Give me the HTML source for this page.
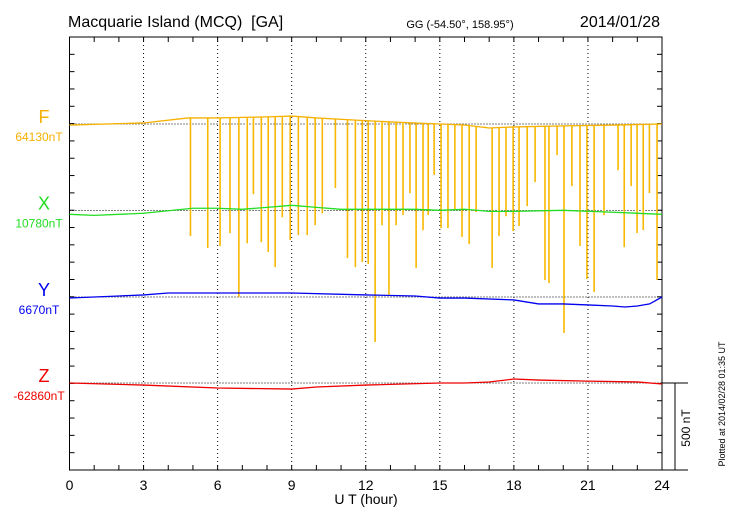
<!DOCTYPE html>
<html><head><meta charset="utf-8"><style>
body{margin:0;background:#fff;width:730px;height:520px;overflow:hidden}
svg{font-family:"Liberation Sans",sans-serif}
text{white-space:pre}
</style></head><body>
<svg id="c" width="730" height="520"></svg>
<script>
const hoursTicks=[0,3,6,9,12,15,18,21,24];
const fBase=[[0,64124],[3,64136],[4.8,64165],[6,64165],[8,64171],[9,64176],[10,64165],[11.5,64153],[13,64142],[14,64136],[16,64124],[17,64107],[18,64113],[20,64119],[22,64124],[24,64130]];
const fSpikeHours=[4.9,5.6,6.1,6.5,6.86,7.2,7.45,7.77,8.05,8.33,8.62,8.94,9.27,9.63,9.95,10.24,10.77,11.26,11.58,11.86,12.1,12.38,12.66,12.94,13.23,13.51,13.79,14.04,14.32,14.53,14.77,15.05,15.33,15.61,15.9,16.19,16.47,16.84,17.12,17.4,17.68,17.97,18.21,18.54,18.86,19.26,19.42,19.75,20.03,20.35,20.68,20.96,21.25,21.65,22.22,22.47,22.75,22.99,23.24,23.49,23.8];
const fSpikeMins=[63482,63413,63424,63499,63130,63441,63724,63447,63390,63303,63591,63459,63488,63488,63545,63614,63760,63355,63303,63332,63321,62870,63545,63142,63545,63603,63730,63298,63516,63603,63835,63528,63528,63638,63477,63436,63621,64115,63298,63482,63597,63511,63540,63655,63794,63228,63211,63950,62922,63771,63425,63234,63159,63603,63863,63418,63771,63500,63517,63731,63228];
const xVals=[[0,10758],[1,10752],[3,10764],[5,10793],[6,10793],[7,10787],[8,10798],[9,10810],[10,10798],[11,10787],[12,10787],[14,10787],[15,10781],[16,10787],[17,10775],[18,10775],[20,10781],[22,10770],[24,10758]];
const yVals=[[0,6664],[2,6676],[3,6682],[4,6693],[6,6693],[9,6693],[12,6682],[14,6676],[15,6664],[16,6664],[18,6653],[19,6630],[20,6630],[21,6624],[22,6618],[22.5,6612],[23,6618],[23.5,6630],[24,6670]];
const zVals=[[0,-62860],[3,-62872],[6,-62889],[9,-62895],[10,-62883],[12,-62872],[15,-62860],[16,-62860],[17,-62854],[18,-62837],[19,-62843],[21,-62849],[23,-62854],[24,-62866]];
const NS="http://www.w3.org/2000/svg",svg=document.getElementById('c');
const L=69.5,R=662,T=37,B=470,PXPERNT=86.5/500;
const xs=h=>L+h*(R-L)/24;
function ys(v,base,by){return by-(v-base)*PXPERNT;}
function el(tag,attrs,parent){const e=document.createElementNS(NS,tag);for(const k in attrs)e.setAttribute(k,attrs[k]);(parent||svg).appendChild(e);return e;}
function txt(s,x,y,size,fill,anchor,name,extra){const t=el('text',Object.assign({x:x,y:y,'font-size':size,fill:fill,'text-anchor':anchor||'start'},extra||{}));t.textContent=s;


return t;}
const fr=el('rect',{x:L,y:T,width:R-L,height:B-T,fill:'none',stroke:'#000','stroke-width':1});


const sb=el('path',{d:`M${R} 383H688M${R} ${B}H688M675 383V${B}`,stroke:'#000',fill:'none'});


for(let y=T;y<=B+0.1;y+=17.32){el('line',{x1:L,x2:L+5,y1:y,y2:y,stroke:'#000'});el('line',{x1:R,x2:R-5,y1:y,y2:y,stroke:'#000'});}
for(let h=0;h<=24;h++){el('line',{x1:xs(h),x2:xs(h),y1:T,y2:T+5,stroke:'#000'});el('line',{x1:xs(h),x2:xs(h),y1:B,y2:B-5,stroke:'#000'});}
hoursTicks.forEach(h=>{if(h>0&&h<24){const g=el('line',{x1:xs(h),x2:xs(h),y1:T,y2:B,stroke:'#000','stroke-dasharray':'1,3'});

}
txt(String(h),xs(h),490,14,'#000','middle','x-tick-label');});
const chans=[{n:'F',base:64130,by:124,col:'#f5b000',d:fBase},{n:'X',base:10780,by:210.5,col:'#22dd22',d:xVals},{n:'Y',base:6670,by:297,col:'#0000ee',d:yVals},{n:'Z',base:-62860,by:383,col:'#ee0000',d:zVals}];
chans.forEach(c=>{
 const g=el('line',{x1:L,x2:R,y1:c.by,y2:c.by,stroke:'#000','stroke-dasharray':'1,2'});
 
 
 txt(c.n,44,c.by-1,18,c.col,'middle','channel-label-'+c.n.toLowerCase());
 txt(c.base+'nT',39,c.by+17,12,c.col,'middle','channel-base-'+c.n.toLowerCase());
});
fSpikeHours.forEach((h,i)=>{
 let v=fBase[0][1];for(let k=0;k<fBase.length-1;k++){if(h>=fBase[k][0]&&h<=fBase[k+1][0]){const a=fBase[k],b=fBase[k+1];v=a[1]+(b[1]-a[1])*(h-a[0])/(b[0]-a[0]);}}
 const s=el('line',{x1:xs(h),x2:xs(h),y1:ys(v,64130,124),y2:ys(fSpikeMins[i],64130,124),stroke:'#f8b800','stroke-width':1.6});
 
 
});
chans.forEach(c=>{
 const p=el('polyline',{points:c.d.map(d=>xs(d[0])+','+ys(d[1],c.base,c.by)).join(' '),fill:'none',stroke:c.col,'stroke-width':1.3});
 
 
});
txt('Macquarie Island (MCQ)  [GA]',68,27,16,'#000','start','chart-title');
txt('GG (-54.50°, 158.95°)',460,28,11,'#000','middle','coordinates');
txt('2014/01/28',660,27,16,'#000','end','date');
txt('U T (hour)',366,504,14,'#000','middle','x-axis-title');
txt('500 nT',690,428,12,'#000','middle','scale-label',{transform:'rotate(-90 690 428)'});
txt('Plotted at 2014/02/28 01:35 UT',725,404,9,'#000','middle','plot-timestamp',{transform:'rotate(-90 725 404)'});
</script>
</body></html>
